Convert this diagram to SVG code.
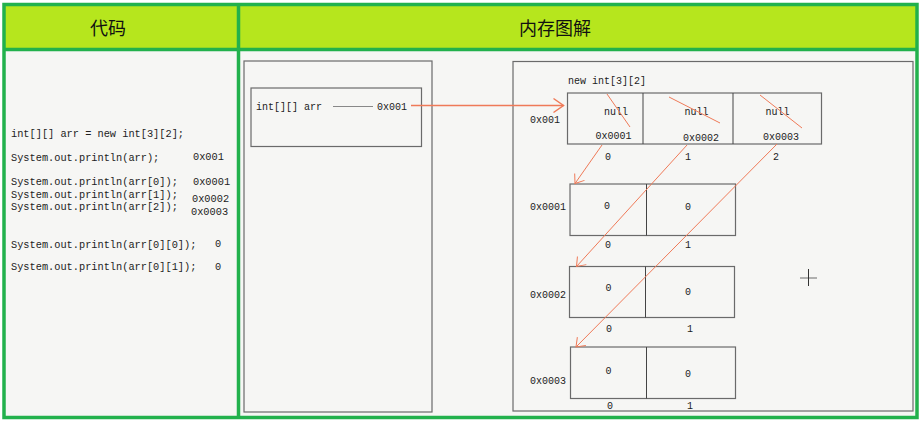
<svg xmlns="http://www.w3.org/2000/svg" width="924" height="423" viewBox="0 0 924 423">
<defs>
<style>
.hdr{font-family:"Noto Sans CJK SC","Noto Sans",sans-serif;font-size:18px;fill:#111;text-anchor:middle}
.code{font-family:"Liberation Mono","DejaVu Sans Mono",monospace;font-size:10.3px;fill:#222}
.t{font-family:"Liberation Mono","DejaVu Sans Mono",monospace;font-size:10px;fill:#222}
.m{text-anchor:middle}
.box{fill:none;stroke:#6a6a6a;stroke-width:1.2}
.div{stroke:#444;stroke-width:1}
.red{fill:none;stroke:#ef7a58;stroke-width:1}
</style>
<marker id="bigArrow" markerUnits="userSpaceOnUse" viewBox="-12 -9 14 18" markerWidth="14" markerHeight="18" refX="0" refY="0" orient="auto">
<path d="M-10,-7 L0,0 L-10,7" fill="none" stroke="#ef7a58" stroke-width="1.5"/>
</marker>
<marker id="arrow" markerUnits="userSpaceOnUse" viewBox="-10 -8 12 16" markerWidth="12" markerHeight="16" refX="0" refY="0" orient="auto">
<path d="M-8,-6 L0,0 L-8,6" fill="none" stroke="#ef7a58" stroke-width="1"/>
</marker>
</defs>

<!-- table frame -->
<g id="frame">
<rect x="4" y="4.5" width="913" height="413" fill="#f6f6f4"/>
<rect x="4" y="4.5" width="913" height="45" fill="#b6e61d"/>
<rect x="4" y="4.5" width="913" height="413" fill="none" stroke="#22b14c" stroke-width="3.5"/>
<line x1="4" y1="49.5" x2="917" y2="49.5" stroke="#22b14c" stroke-width="3.5"/>
<line x1="238.5" y1="4.5" x2="238.5" y2="417.5" stroke="#22b14c" stroke-width="3.5"/>
<text class="hdr" x="108" y="35">代码</text>
<text class="hdr" x="555" y="35">内存图解</text>
</g>

<!-- code column -->
<g id="code">
<text class="code" x="11" y="137">int[][] arr = new int[3][2];</text>
<text class="code" x="11" y="161">System.out.println(arr);</text>
<text class="code" x="193" y="160">0x001</text>
<text class="code" x="11" y="185">System.out.println(arr[0]);</text>
<text class="code" x="11" y="197.5">System.out.println(arr[1]);</text>
<text class="code" x="11" y="210">System.out.println(arr[2]);</text>
<text class="code" x="193" y="185">0x0001</text>
<text class="code" x="192" y="201.5">0x0002</text>
<text class="code" x="191" y="215">0x0003</text>
<text class="code" x="11" y="247.5">System.out.println(arr[0][0]);</text>
<text class="code" x="215" y="247">0</text>
<text class="code" x="11" y="270">System.out.println(arr[0][1]);</text>
<text class="code" x="215" y="270">0</text>
</g>

<!-- stack -->
<g id="stack">
<rect class="box" x="244" y="61" width="188" height="351"/>
<rect class="box" x="251" y="88" width="170.5" height="58.5"/>
<text class="t" x="256" y="110">int[][] arr</text>
<line x1="333" y1="106.5" x2="373" y2="106.5" stroke="#888" stroke-width="1"/>
<text class="t" x="377" y="110">0x001</text>
</g>

<!-- heap -->
<g id="heap">
<rect class="box" x="513" y="61.5" width="400" height="349.5"/>
<text class="t" x="568" y="83.5">new int[3][2]</text>
<text class="t" x="530" y="122.5">0x001</text>
</g>

<g id="outerArray">
<rect class="box" x="567.5" y="93" width="254" height="51"/>
<line class="div" x1="643" y1="93" x2="643" y2="144"/>
<line class="div" x1="733" y1="93" x2="733" y2="144"/>
<text class="t m" x="616" y="115">null</text>
<text class="t m" x="696.5" y="115">null</text>
<text class="t m" x="777.5" y="115">null</text>
<text class="t m" x="613.5" y="138.5">0x0001</text>
<text class="t m" x="701" y="140.5">0x0002</text>
<text class="t m" x="781" y="139.5">0x0003</text>
<text class="t m" x="608" y="159.5">0</text>
<text class="t m" x="688" y="159.5">1</text>
<text class="t m" x="776" y="159.5">2</text>
</g>

<g id="row0x0001">
<rect class="box" x="570" y="184" width="165.5" height="51.5"/>
<line class="div" x1="646.5" y1="184" x2="646.5" y2="235.5"/>
<text class="t" x="530" y="209.5">0x0001</text>
<text class="t m" x="607" y="208.5">0</text>
<text class="t m" x="688" y="210">0</text>
<text class="t m" x="608" y="247.5">0</text>
<text class="t m" x="688" y="247.5">1</text>
</g>

<g id="row0x0002">
<rect class="box" x="569.5" y="266.5" width="165" height="51"/>
<line class="div" x1="645.5" y1="266.5" x2="645.5" y2="317.5"/>
<text class="t" x="530" y="297.5">0x0002</text>
<text class="t m" x="608.5" y="291">0</text>
<text class="t m" x="688" y="295">0</text>
<text class="t m" x="609" y="332">0</text>
<text class="t m" x="690" y="332">1</text>
</g>

<g id="row0x0003">
<rect class="box" x="570.5" y="347" width="165" height="51.5"/>
<line class="div" x1="646.5" y1="347" x2="646.5" y2="398.5"/>
<text class="t" x="530" y="383.5">0x0003</text>
<text class="t m" x="608.5" y="374">0</text>
<text class="t m" x="688" y="377">0</text>
<text class="t m" x="610" y="408.5">0</text>
<text class="t m" x="690" y="408.5">1</text>
</g>

<!-- connectors -->
<g id="connectors">
<line x1="411" y1="105.5" x2="563.5" y2="105.5" stroke="#ef7a58" stroke-width="1.5" marker-end="url(#bigArrow)"/>
<line class="red" x1="602" y1="145" x2="575" y2="183.5" marker-end="url(#arrow)"/>
<line class="red" x1="687" y1="145" x2="576.5" y2="266.5" marker-end="url(#arrow)"/>
<line class="red" x1="777" y1="144" x2="576" y2="347" marker-end="url(#arrow)"/>
</g>

<!-- strike-through marks on null -->
<g id="strikes">
<line class="red" x1="607" y1="94" x2="630" y2="127"/>
<line class="red" x1="669" y1="97" x2="720" y2="123"/>
<line class="red" x1="760" y1="95" x2="802" y2="128"/>
</g>

<!-- cursor crosshair -->
<g id="cursor">
<line x1="800" y1="278" x2="817" y2="278" stroke="#999" stroke-width="1.5"/>
<line x1="808.5" y1="269" x2="808.5" y2="286" stroke="#333" stroke-width="1"/>
</g>
</svg>
